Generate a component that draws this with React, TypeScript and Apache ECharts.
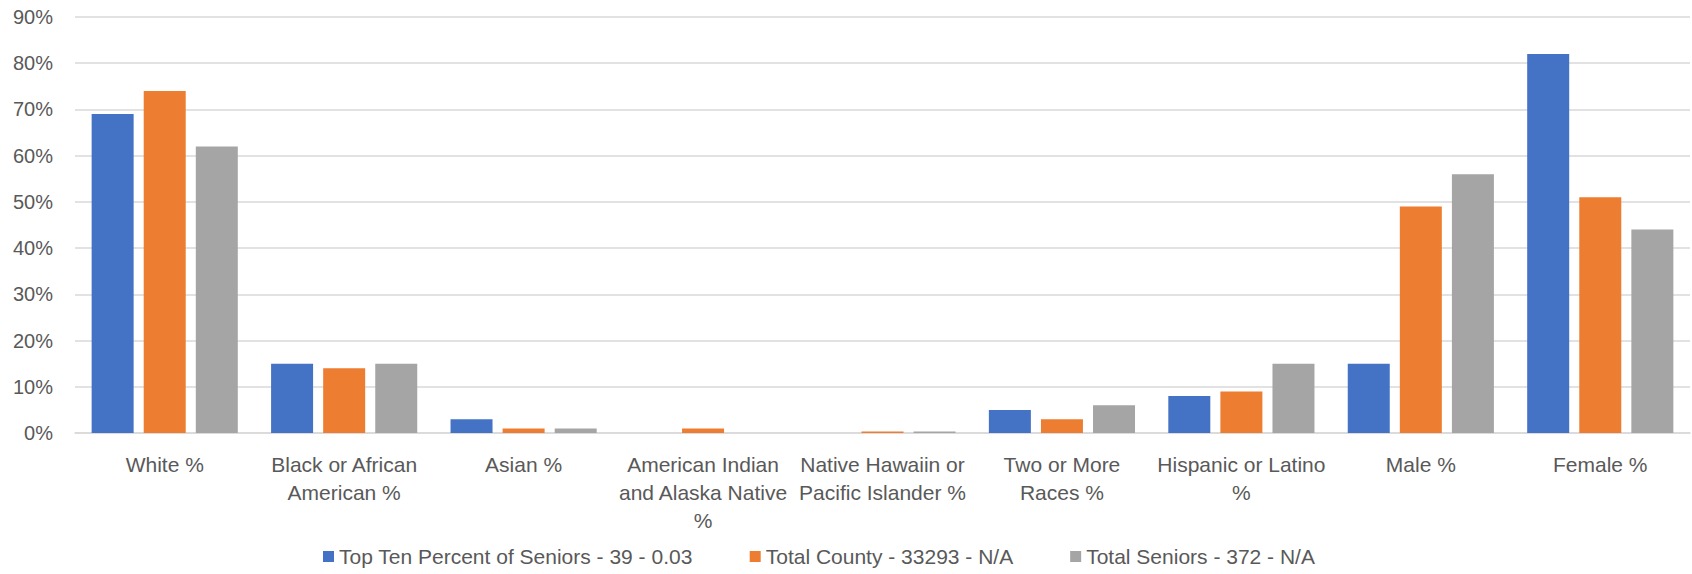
import React, { useEffect, useRef } from "react";
import * as echarts from "echarts";

const categories = [
  "White %",
  "Black or African\nAmerican %",
  "Asian %",
  "American Indian\nand Alaska Native\n%",
  "Native Hawaiin or\nPacific Islander %",
  "Two or More\nRaces %",
  "Hispanic or Latino\n%",
  "Male %",
  "Female %",
];
const seriesNames = [
  "Top Ten Percent of Seniors - 39 - 0.03",
  "Total County - 33293 - N/A",
  "Total Seniors - 372 - N/A",
];
const topTen = [69, 15, 3, 0, 0, 5, 8, 15, 82];
const totalCounty = [74, 14, 1, 1, 0.3, 3, 9, 49, 51];
const totalSeniors = [62, 15, 1, 0, 0.3, 6, 15, 56, 44];
const colors = ["#4472C4", "#ED7D31", "#A5A5A5"];

const FONT = "'Liberation Sans Narrow', 'Liberation Sans', sans-serif";

export default function App() {
  const ref = useRef<HTMLDivElement>(null);
  useEffect(() => {
    document.body.style.margin = "0";
    const chart = echarts.init(ref.current!, null, { renderer: "svg" });
    const values = [topTen, totalCounty, totalSeniors];
    chart.setOption({
      animation: false,
      textStyle: { fontFamily: FONT },
      grid: {
        left: 75,
        right: 2,
        top: 17,
        bottom: 141,
        containLabel: false,
        outerBoundsMode: "none",
      },
      legend: {
        bottom: 2,
        left: 318,
        itemWidth: 11,
        itemHeight: 11,
        itemGap: 57,
        icon: "rect",
        textStyle: { fontSize: 21, color: "#595959", fontFamily: FONT },
        data: seriesNames,
      },
      xAxis: {
        type: "category",
        data: categories,
        axisLine: { lineStyle: { color: "#d9d9d9", width: 1.5 } },
        axisTick: { show: false },
        axisLabel: {
          color: "#595959",
          fontSize: 21,
          lineHeight: 28,
          margin: 17,
          interval: 0,
          fontFamily: FONT,
        },
      },
      yAxis: {
        type: "value",
        min: 0,
        max: 90,
        interval: 10,
        axisLine: { show: false },
        axisTick: { show: false },
        axisLabel: {
          color: "#595959",
          fontSize: 20,
          margin: 22,
          formatter: "{value}%",
          fontFamily: FONT,
        },
        splitLine: { lineStyle: { color: "#d9d9d9", width: 1.5 } },
      },
      series: values.map((v, i) => ({
        name: seriesNames[i],
        type: "bar",
        data: v,
        barWidth: 42,
        barGap: "24%",
        itemStyle: { color: colors[i] },
      })),
    });
    return () => chart.dispose();
  }, []);
  return <div ref={ref} style={{ width: 1692, height: 574 }} />;
}
